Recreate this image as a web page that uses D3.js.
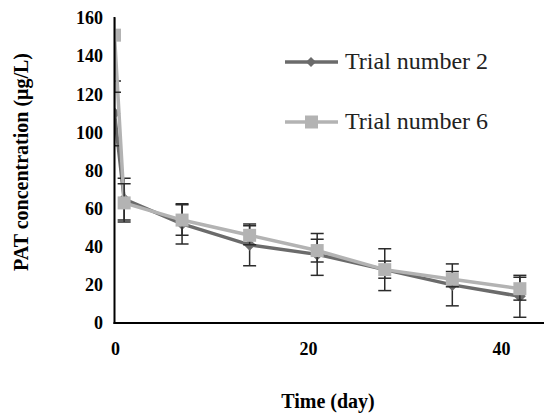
<!DOCTYPE html>
<meta charset="utf-8">
<style>
    body { margin: 0; background: #fff; }
    svg { display: block; }
    .tick-label { font-family: "Liberation Serif", "Times New Roman", serif; font-weight: bold; font-size: 18px; fill: #000; }
    .axis-title { font-family: "Liberation Serif", "Times New Roman", serif; font-weight: bold; font-size: 20px; fill: #000; }
    .legend-label { font-family: "Liberation Serif", "Times New Roman", serif; font-weight: 400; font-size: 24px; fill: #222; }
</style>
<svg width="544" height="419"></svg>
<script src="https://d3js.org/d3.v7.min.js"></script>
<script>

    // data
    var days = [0, 1, 7, 14, 21, 28, 35, 42];
    var trial2 = [110, 65, 52, 41, 36, 28, 20, 14];
    var trial2Err = [17, 11, 10.5, 11, 11, 11, 11, 11];
    var trial6 = [151, 63, 54, 46, 38, 28, 23, 18];
    var trial6Err = [30, 10, 8, 5, 6, 4.5, 4, 6];
    var xTicks = [0, 20, 40];
    var yTicks = [0, 20, 40, 60, 80, 100, 120, 140, 160];

    var series = [
        { name: "Trial number 2", values: trial2, err: trial2Err, color: "#6b6b6b", marker: "diamond" },
        { name: "Trial number 6", values: trial6, err: trial6Err, color: "#b3b3b3", marker: "square" }
    ];

    var svg = d3.select("svg");

    var x = d3.scaleLinear().domain([0, 44.5]).range([114.5, 544]);
    var y = d3.scaleLinear().domain([0, 160]).range([323, 18]);

    svg.append("defs").append("clipPath")
        .attr("id", "plot")
        .append("rect")
        .attr("x", 114.5).attr("y", 18)
        .attr("width", 544 - 114.5).attr("height", 323 - 18);

    var plot = svg.append("g").attr("clip-path", "url(#plot)");

    var line = d3.line()
        .x(function (d, i) { return x(days[i]); })
        .y(function (d) { return y(d); });

    var diamond = "M0,-6L6,0L0,6L-6,0Z";

    series.forEach(function (s) {
        plot.append("path")
            .datum(s.values)
            .attr("d", line)
            .attr("fill", "none")
            .attr("stroke", s.color)
            .attr("stroke-width", 3.5);

        var eb = plot.append("g")
            .attr("stroke", "#2b2b2b")
            .attr("stroke-width", 1.5);

        s.values.forEach(function (v, i) {
            var cx = x(days[i]), hi = y(v + s.err[i]), lo = y(v - s.err[i]);
            eb.append("line").attr("x1", cx).attr("x2", cx).attr("y1", hi).attr("y2", lo);
            eb.append("line").attr("x1", cx - 6.5).attr("x2", cx + 6.5).attr("y1", hi).attr("y2", hi);
            eb.append("line").attr("x1", cx - 6.5).attr("x2", cx + 6.5).attr("y1", lo).attr("y2", lo);
        });

        if (s.marker === "diamond") {
            plot.selectAll(null)
                .data(s.values)
                .enter().append("path")
                .attr("d", diamond)
                .attr("transform", function (d, i) { return "translate(" + x(days[i]) + "," + y(d) + ")"; })
                .attr("fill", s.color);
        } else {
            plot.selectAll(null)
                .data(s.values)
                .enter().append("rect")
                .attr("x", function (d, i) { return x(days[i]) - 6.5; })
                .attr("y", function (d) { return y(d) - 6.5; })
                .attr("width", 13).attr("height", 13)
                .attr("fill", s.color);
        }
    });

    // axes
    svg.append("line")
        .attr("x1", x(0)).attr("x2", x(0))
        .attr("y1", y(160) - 1).attr("y2", y(0) + 1)
        .attr("stroke", "#000").attr("stroke-width", 2);
    svg.append("line")
        .attr("x1", x(0) - 1).attr("x2", 544)
        .attr("y1", y(0)).attr("y2", y(0))
        .attr("stroke", "#000").attr("stroke-width", 2);

    svg.selectAll(".ylab")
        .data(yTicks)
        .enter().append("text")
        .attr("class", "tick-label")
        .attr("x", 103)
        .attr("y", function (d) { return y(d); })
        .attr("dy", "0.35em")
        .attr("text-anchor", "end")
        .text(function (d) { return d; });

    svg.selectAll(".xlab")
        .data(xTicks)
        .enter().append("text")
        .attr("class", "tick-label")
        .attr("x", function (d) { return x(d) + 1; })
        .attr("y", 349)
        .attr("dy", "0.35em")
        .attr("text-anchor", "middle")
        .text(function (d) { return d; });

    svg.append("text")
        .attr("class", "axis-title")
        .attr("x", 328)
        .attr("y", 408)
        .attr("text-anchor", "middle")
        .text("Time (day)");

    svg.append("text")
        .attr("class", "axis-title")
        .attr("transform", "translate(28,162) rotate(-90)")
        .attr("text-anchor", "middle")
        .text("PAT concentration (μg/L)");

    // legend
    var legend = svg.append("g");
    var legendY = [62, 122];
    series.forEach(function (s, i) {
        var g = legend.append("g").attr("transform", "translate(0," + legendY[i] + ")");
        g.append("line")
            .attr("x1", 285).attr("x2", 338)
            .attr("stroke", s.color).attr("stroke-width", 3.5);
        if (s.marker === "diamond") {
            g.append("path").attr("d", "M0,-5L5,0L0,5L-5,0Z")
                .attr("transform", "translate(311,0)")
                .attr("fill", s.color);
        } else {
            g.append("rect").attr("x", 305).attr("y", -6.5)
                .attr("width", 13).attr("height", 13)
                .attr("fill", s.color);
        }
        g.append("text")
            .attr("class", "legend-label")
            .attr("x", 345)
            .attr("y", 0)
            .attr("dy", "0.3em")
            .text(s.name);
    });

</script>
